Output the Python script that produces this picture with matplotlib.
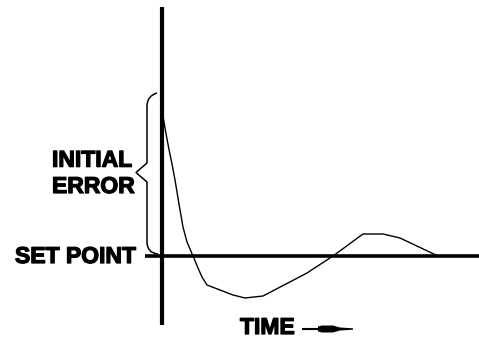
import matplotlib
matplotlib.use("Agg")
import matplotlib.pyplot as plt
import matplotlib.patheffects as pe
from matplotlib.path import Path
from matplotlib.patches import PathPatch, Polygon

# Response curve: time offset vs error (set point = 0)
time = [0, 3, 6.5, 10, 13, 17, 21, 25, 31, 36, 40, 45, 58, 71, 83, 101, 145, 171, 201, 221, 238, 276]
error = [146, 128, 109, 92, 76, 52, 29, 14, 0, -12, -21, -29, -34, -39, -42, -40, -17, 0, 22, 22, 18, 0]

labels_initial = ["INITIAL", "ERROR"]
label_setpoint = "SET POINT"
label_time = "TIME"

fig = plt.figure(figsize=(4.79, 3.40), dpi=100)
ax = fig.add_axes([0, 0, 1, 1])
ax.set_xlim(-162, 317)
ax.set_ylim(-84, 256)
ax.axis("off")

# axes lines
ax.plot([0, 0], [-69, 249], color="black", lw=3.0, solid_capstyle="butt")
ax.plot([-17, 317], [0, 0], color="black", lw=2.6, solid_capstyle="butt")

# response curve
ax.plot(time, error, color="black", lw=1.0)

# brace
verts = [(-5, 163), (-15, 160), (-15, 150),
         (-15, 93), (-26, 83.5), (-15, 74),
         (-15, 14), (-15, 3), (-4, 2)]
codes = [Path.MOVETO, Path.CURVE3, Path.CURVE3,
         Path.LINETO, Path.LINETO, Path.LINETO,
         Path.LINETO, Path.CURVE3, Path.CURVE3]
ax.add_patch(PathPatch(Path(verts, codes), fill=False, lw=1.1, color="black"))

fkw = dict(family=["Liberation Sans", "DejaVu Sans"], weight="bold",
           fontsize=16.5, color="black", ha="left", va="baseline",
           path_effects=[pe.withStroke(linewidth=0.9, foreground="black")])
ax.text(-110, 89.3, labels_initial[0], **fkw)
ax.text(-110, 63, labels_initial[1], **fkw)
ax.text(-147, -7, label_setpoint, **fkw)
ax.text(78, -78, label_time, **fkw)

# arrow after TIME
yc = -73
ax.plot([140, 160], [yc, yc], color="black", lw=1.5, solid_capstyle="butt")
head = [(156, yc + 2.5), (160, yc + 3.5), (171, yc + 3.5), (178, yc + 1.5),
        (191, yc + 0.7), (191, yc - 0.7), (178, yc - 1.5), (171, yc - 3.5),
        (160, yc - 3.5), (156, yc - 2.5)]
ax.add_patch(Polygon(head, closed=True, color="black", lw=0))

fig.savefig("out.png", dpi=100)
